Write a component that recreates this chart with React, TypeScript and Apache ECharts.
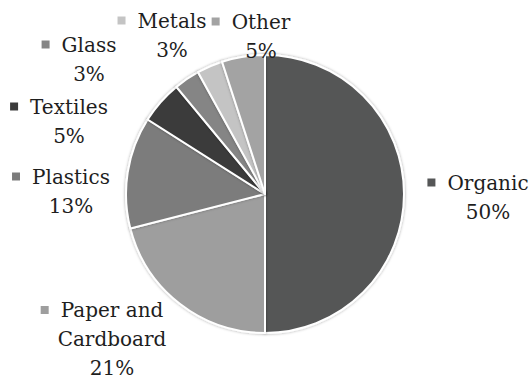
import React, { useEffect, useRef } from "react";
import * as echarts from "echarts";

const categories = ["Organic", "Paper and\nCardboard", "Plastics", "Textiles", "Glass", "Metals", "Other"];
const values = [50, 21, 13, 5, 3, 3, 5];
const colors = ["#555657", "#9e9e9e", "#7b7b7b", "#3b3b3b", "#858585", "#c4c4c4", "#a3a3a3"];
// label block centres (text centre, excluding marker)
const labelCentres: [number, number][] = [
  [488, 197],
  [112, 339],
  [71, 191],
  [69, 121],
  [89, 59],
  [172, 35],
  [261, 36],
];

const FONT = "DejaVu Serif";

export default function App() {
  const ref = useRef<HTMLDivElement>(null);
  useEffect(() => {
    if (!ref.current) return;
    const chart = echarts.init(ref.current, undefined, { renderer: "svg" });
    const total = values.reduce((a, b) => a + b, 0);
    const data = categories.map((name, i) => {
      const lines = name.split("\n");
      const pct = Math.round((values[i] / total) * 100) + "%";
      const first = `{sq|}{gap|}{t|${lines[0]}}{pad|}`;
      const rest = lines.slice(1).map((l) => `{t|${l}}`);
      const text = [first, ...rest, `{t|${pct}}`].join("\n");
      return {
        name,
        value: values[i],
        itemStyle: { color: colors[i] },
        label: {
          formatter: text,
          fontFamily: FONT,
          fontSize: 20,
          rich: {
            sq: { width: 8, height: 8, backgroundColor: colors[i] },
            gap: { width: 12 },
            pad: { width: 20 },
            t: {
              fontFamily: FONT,
              fontSize: 20,
              color: "#1e1e1e",
              lineHeight: 29,
            },
          },
        },
      };
    });
    chart.setOption({
      animation: false,
      backgroundColor: "#fff",
      textStyle: { fontFamily: FONT },
      series: [
        {
          type: "pie",
          center: [265, 194],
          radius: 139,
          startAngle: 90,
          clockwise: true,
          avoidLabelOverlap: false,
          itemStyle: {
            borderColor: "#ffffff",
            borderWidth: 2,
            shadowBlur: 3,
            shadowColor: "rgba(0,0,0,0.35)",
          },
          label: {
            show: true,
            position: "outside",
            align: "center",
            fontFamily: FONT,
          },
          labelLine: { show: false },
          labelLayout: (params: any) => {
            const c = labelCentres[params.dataIndex];
            return { x: c[0], y: c[1], align: "center", verticalAlign: "middle" };
          },
          emphasis: { disabled: true },
          data,
        },
      ],
    });
    return () => chart.dispose();
  }, []);
  return (
    <div
      ref={ref}
      style={{ position: "fixed", left: 0, top: 0, width: 531, height: 381 }}
    />
  );
}
